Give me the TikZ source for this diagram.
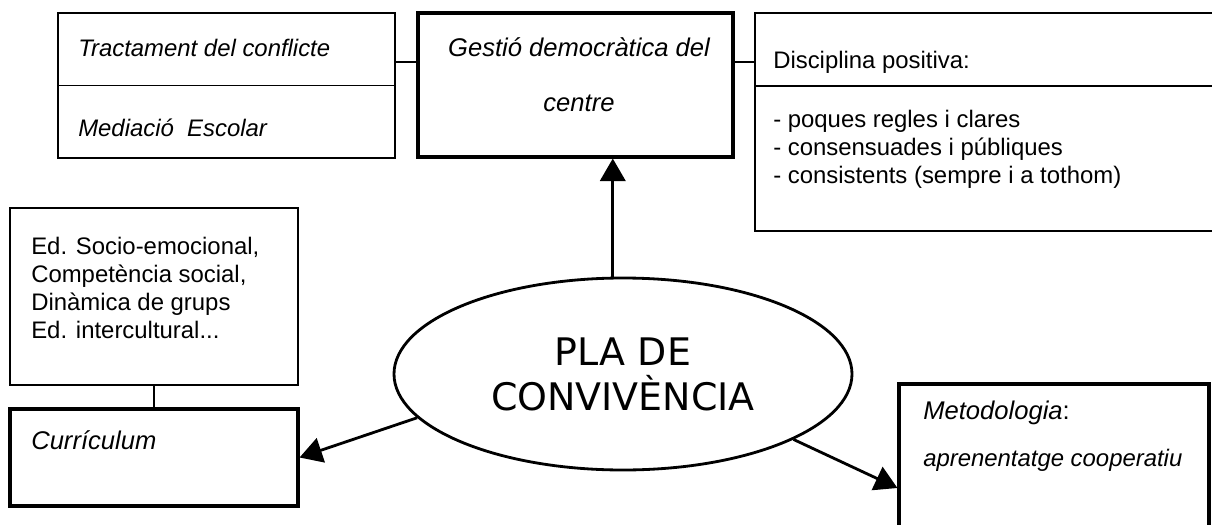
\documentclass[tikz,border=0pt]{standalone}
\usepackage{fontspec}
\setmainfont{Liberation Sans}
\newfontfamily\plafont{DejaVu Sans}
\usetikzlibrary{arrows.meta,shapes.geometric}

\begin{document}
\begin{tikzpicture}[
		thinbox/.style={draw,line width=1pt,inner sep=0pt},
		thickbox/.style={draw,line width=2.2pt,inner sep=0pt},
		txt/.style={anchor=west,inner sep=0pt,align=left,font=\fontsize{17}{19.9}\selectfont},
		itxt/.style={txt,font=\fontsize{17}{19.9}\selectfont\itshape},
		htxt/.style={txt,font=\fontsize{18.2}{19.9}\selectfont\itshape},
		link/.style={line width=1pt},
		arr/.style={line width=2pt,-{Triangle[length=16pt,width=18pt]}}
	]
		\useasboundingbox (0,0) rectangle (30.3,-13.1);
		% boxes
		\node[thinbox,minimum width=8.425cm,minimum height=3.625cm] (conflict) at (5.6625,-2.1375) {};
		\node[thickbox,minimum width=7.875cm,minimum height=3.6cm] (gestio) at (14.3875,-2.125) {};
		\node[thinbox,minimum width=11.475cm,minimum height=5.45cm] (disc) at (24.6125,-3.05) {};
		\node[thinbox,minimum width=7.2cm,minimum height=4.425cm] (social) at (3.85,-7.4125) {};
		\node[thickbox,minimum width=7.2cm,minimum height=2.425cm] (curric) at (3.85,-11.4375) {};
		\node[thickbox,minimum width=7.75cm,minimum height=3.9cm] (metod) at (26.35,-11.55) {};
		\node[draw,ellipse,line width=2pt,inner sep=0pt,minimum width=11.45cm,minimum height=4.8cm,
			align=center,font=\plafont\fontsize{27}{32}\selectfont] (pla) at (15.575,-9.35) {PLA DE\\CONVIVÈNCIA};
		% dividers
		\draw[link] (conflict.west) -- (conflict.east);
		\draw[link] (disc.west |- 0,-2.15) -- (disc.east |- 0,-2.15);
		% texts
		\node[itxt] (tract) at (1.95,-1.2) {Tractament del conflicte};
		\node[itxt] (media) at (1.95,-3.2) {Mediació\ \ Escolar};
		\node[htxt,anchor=center,align=center,font=\fontsize{18.2}{39}\selectfont\itshape] (gestiotxt) at (14.475,-1.875) {Gestió democràtica del\\centre};
		\node[txt] (disctit) at (19.325,-1.55) {Disciplina positiva:};
		\node[txt] (disclist) at (19.325,-3.725) {- poques regles i clares\\- consensuades i públiques\\- consistents (sempre i a tothom)};
		\node[txt] (socialtxt) at (0.775,-7.2) {Ed. Socio-emocional,\\Competència social,\\Dinàmica de grups\\Ed. intercultural...};
		\node[htxt] (curtxt) at (0.775,-11.0) {Currículum};
		\node[htxt] (mettit) at (23.075,-10.325) {Metodologia\upshape:};
		\node[itxt] (mettxt) at (23.075,-11.5) {aprenentatge cooperatiu};
		% connectors
		\draw[link] (conflict.east |- 0,-1.55) -- (gestio.west |- 0,-1.55);
		\draw[link] (gestio.east |- 0,-1.55) -- (disc.west |- 0,-1.55);
		\draw[link] (social.south) -- (curric.north);
		\draw[arr] (pla.96.5) -- (pla.96.5 |- gestio.south);
		\draw[arr] (pla.192.6) -- (curric.east);
		\draw[arr] (pla.339) -- ([yshift=-0.65cm]metod.west);
	\end{tikzpicture}
\end{document}
